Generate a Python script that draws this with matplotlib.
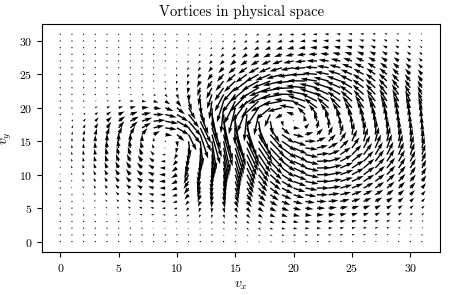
import numpy as np
import matplotlib
matplotlib.use("Agg")
import matplotlib.pyplot as plt

plt.rcParams['font.family'] = 'cmr10'
plt.rcParams['mathtext.fontset'] = 'cm'
plt.rcParams['axes.formatter.use_mathtext'] = True

# grid of the field
nx, ny = 32, 32

# vortices: centre, strength (+ = counter-clockwise),
# size to the left / right / below / above of the centre
vort_x = [17.7, 22.0, 10.0]
vort_y = [19.0, 16.5, 15.0]
vort_s = [0.4, 1.0, -0.45]
vort_left = [3.0, 5.5, 4.2]
vort_right = [3.0, 6.0, 3.0]
vort_down = [3.0, 6.5, 5.5]
vort_up = [3.0, 6.5, 3.0]

x = np.arange(nx)
y = np.arange(ny)
X, Y = np.meshgrid(x, y)
U = np.zeros_like(X, dtype=float)
V = np.zeros_like(X, dtype=float)
for cx, cy, s, al, ar, bd, bu in zip(vort_x, vort_y, vort_s, vort_left,
                                      vort_right, vort_down, vort_up):
    dx, dy = X - cx, Y - cy
    a = np.where(dx < 0, al, ar)
    b = np.where(dy < 0, bd, bu)
    psi = s * np.exp(-((dx / a)**2 + (dy / b)**2) / 2)
    U += -psi * dy / b**2 * 10
    V += psi * dx / a**2 * 10

fig = plt.figure(figsize=(4.49, 2.95), dpi=100)
ax = fig.add_axes([0.094, 0.146, 0.886, 0.773])
ax.quiver(X, Y, U, V, scale=27, width=0.0035)

ax.set_title('Vortices in physical space', fontsize=10.5)
ax.set_xlabel(r'$v_x$', fontsize=10)
ax.set_ylabel(r'$v_y$', fontsize=10)
ax.set_xticks([0, 5, 10, 15, 20, 25, 30])
ax.set_yticks([0, 5, 10, 15, 20, 25, 30])
ax.tick_params(labelsize=8.5)

fig.savefig('out.png', dpi=100)
